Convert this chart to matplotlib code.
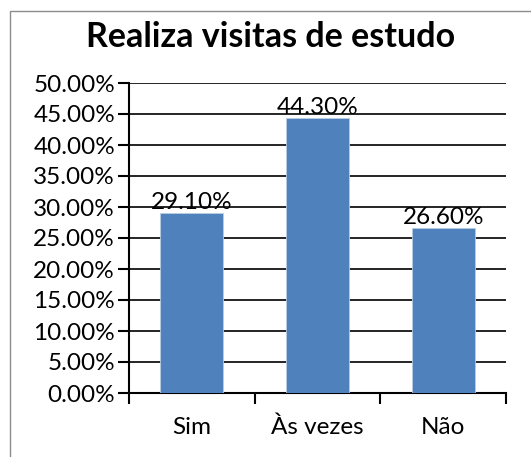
import matplotlib
matplotlib.use('Agg')
import matplotlib.pyplot as plt
from matplotlib.patches import Rectangle
from matplotlib.ticker import FuncFormatter, MultipleLocator

categories = ['Sim', 'Às vezes', 'Não']
values = [29.10, 44.30, 26.60]
title = 'Realiza visitas de estudo'

plt.rcParams['font.family'] = ['Lato', 'DejaVu Sans']

W, H = 531, 457
fig = plt.figure(figsize=(W / 100, H / 100), dpi=100)

# outer chart frame (cropped on right and bottom)
fig.patches.append(Rectangle((10 / W, -0.1), 1.2, 1 - 11 / H + 0.1,
                             transform=fig.transFigure, fill=False,
                             edgecolor='#8c8c8c', linewidth=1))

ax = fig.add_axes([129 / W, (H - 393) / H, (506 - 129) / W, (393 - 83) / H])
x = range(len(categories))
bars = ax.bar(x, values, width=0.5, color='#4F81BD', edgecolor='#b9cde5',
              linewidth=0.6, zorder=3)

ax.set_xlim(-0.5, len(categories) - 0.5)
ax.set_ylim(0, 50)
ax.yaxis.set_major_locator(MultipleLocator(5))
ax.yaxis.set_major_formatter(FuncFormatter(lambda v, p: f'{v:.2f}%'))
ax.grid(axis='y', color='black', linewidth=1.2, zorder=0)

fs = 17.5
ax.set_xticks([-0.5, 0.5, 1.5, 2.5])
ax.set_xticklabels([])
ax.set_xticks(list(x), minor=True)
ax.set_xticklabels(categories, minor=True)
ax.tick_params(axis='x', which='major', length=8, width=1.5, direction='out')
ax.tick_params(axis='x', which='minor', length=0, pad=17, labelsize=fs)
ax.tick_params(axis='y', length=8, width=1.5, direction='out', labelsize=fs, pad=2)

for s in ['top', 'right']:
    ax.spines[s].set_visible(False)
ax.spines['left'].set_linewidth(1.5)
ax.spines['bottom'].set_linewidth(1.5)

for b, v in zip(bars, values):
    ax.text(b.get_x() + b.get_width() / 2, v, f'{v:.2f}%', ha='center',
            va='bottom', fontsize=fs, zorder=4)

fig.text(271 / W, 1 - 37 / H, title, ha='center', va='center',
         fontsize=24.5, fontweight='bold')

fig.savefig('out.png', dpi=100)
